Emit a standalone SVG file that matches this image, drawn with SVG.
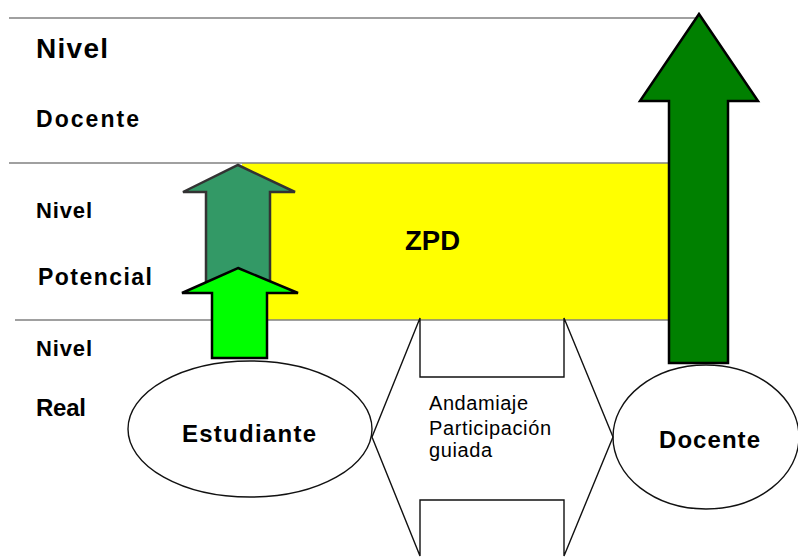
<svg xmlns="http://www.w3.org/2000/svg" width="798" height="559" viewBox="0 0 798 559">
<style>
.lvl{stroke:#808080;stroke-width:1.6;fill:none}
.lab{font-family:"Liberation Sans",Arial,sans-serif;font-weight:bold;fill:#000}
.reg{font-family:"Liberation Sans",Arial,sans-serif;font-size:20px;fill:#000}
.ell{fill:none;stroke:#111;stroke-width:1.4}
</style>
<rect width="798" height="559" fill="#fff"/>
<g id="band">
<rect x="242" y="163" width="426" height="157" fill="#ffff00"/>
<line class="lvl" x1="9" y1="18" x2="700" y2="18"/>
<line class="lvl" x1="9" y1="163" x2="668" y2="163"/>
<line class="lvl" x1="15" y1="320" x2="668" y2="320"/>
<text class="lab" x="405" y="250" font-size="27" textLength="55" lengthAdjust="spacingAndGlyphs">ZPD</text>
</g>
<g id="labels">
<text class="lab" x="36" y="58" font-size="28" textLength="72">Nivel</text>
<text class="lab" x="36" y="127" font-size="23" textLength="103">Docente</text>
<text class="lab" x="36" y="218" font-size="22" textLength="56">Nivel</text>
<text class="lab" x="38" y="285" font-size="23" textLength="114">Potencial</text>
<text class="lab" x="36" y="356" font-size="22" textLength="56">Nivel</text>
<text class="lab" x="36" y="416" font-size="24" textLength="50">Real</text>
</g>
<g id="andamiaje">
<polygon points="420,318 420,377 564,377 564,318 613,437 564,556 564,500 420,500 420,556 372,437" fill="none" stroke="#111" stroke-width="1.4"/>
<text class="reg" x="429" y="410" textLength="99">Andamiaje</text>
<text class="reg" x="429" y="435" textLength="122">Participación</text>
<text class="reg" x="429" y="457" textLength="63">guiada</text>
</g>
<g id="connectors">
<polygon id="arrow-potencial" points="238,165 295,192 270,192 270,290 206,290 206,192 183,192" fill="#339966" stroke="#333" stroke-width="2.5" stroke-linejoin="miter"/>
<polygon id="arrow-real" points="238,268 298,293 267,293 267,358 212,358 212,293 182,293" fill="#00ff00" stroke="#000" stroke-width="2.5"/>
<polygon id="arrow-docente" points="699,14 758,101 728,101 728,363 669,363 669,101 640,101" fill="#008000" stroke="#000" stroke-width="2.5"/>
</g>
<g id="estudiante">
<ellipse class="ell" cx="250" cy="429" rx="122" ry="68"/>
<text class="lab" x="182" y="442" font-size="24" textLength="134">Estudiante</text>
</g>
<g id="docente">
<ellipse class="ell" cx="706" cy="437" rx="93" ry="72"/>
<text class="lab" x="659" y="448" font-size="24" textLength="101">Docente</text>
</g>
</svg>
